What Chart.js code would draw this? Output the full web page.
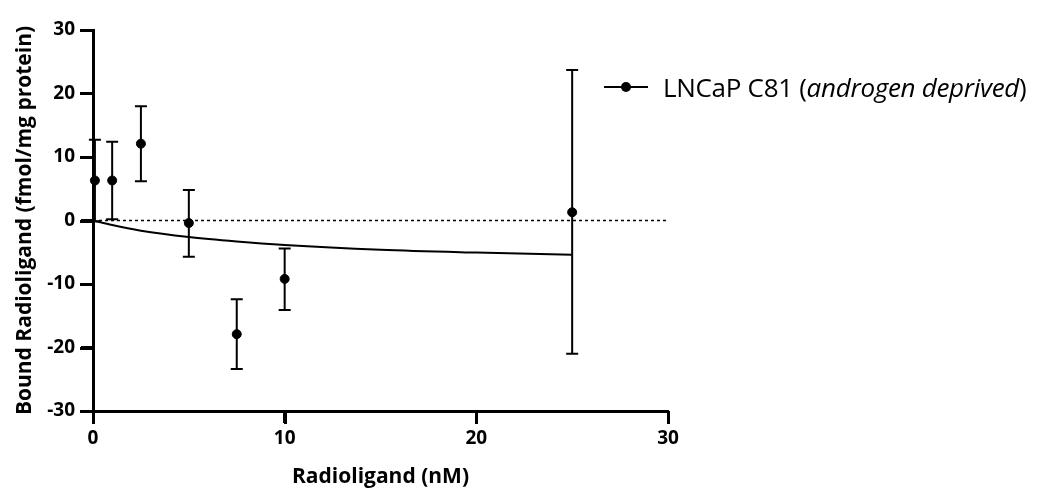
<!DOCTYPE html>
<html>
<head>
<meta charset="utf-8">
<script src="https://cdn.jsdelivr.net/npm/chart.js@4"></script>
<style>
  body { margin: 0; background: #fff; }
  .wrap { position: relative; width: 1043px; height: 493px; }
  .legend { position: absolute; left: 604px; top: 69px; font: 26px "Open Sans", sans-serif; letter-spacing: -0.3px; color: #000; display: flex; align-items: center; white-space: nowrap; }
  .legend .sym { position: relative; width: 44px; height: 34px; margin-right: 15px; }
  .legend .sym::before { content: ""; position: absolute; left: 0; right: 0; top: 16px; border-top: 2px solid #000; }
  .legend .sym::after { content: ""; position: absolute; left: 17px; top: 12px; width: 10px; height: 10px; border-radius: 50%; background: #000; }
</style>
</head>
<body>
<div class="wrap">
  <canvas id="binding" width="1043" height="493"></canvas>
  <div class="legend"><span class="sym"></span><span>LNCaP C81 (<i>androgen deprived</i>)</span></div>
</div>
<script>
// radioligand concentration (nM) and bound radioligand mean / error bar ends
let ligand = [0.1, 1, 2.5, 5, 7.5, 10, 25]
let bound = [6.3, 6.3, 12.1, -0.4, -17.9, -9.2, 1.3]
let errTop = [12.7, 12.4, 18.0, 4.8, -12.4, -4.4, 23.7]
let errBottom = [-0.1, 0.2, 6.2, -5.7, -23.4, -14.1, -21.0]

// fitted one-site curve, read at a few concentrations
let fitX = [0, 1, 2.5, 5, 7.5, 10, 15, 20, 25]
let fitY = [0, -0.72, -1.6, -2.6, -3.3, -3.85, -4.6, -5.05, -5.4]

let yTicks = [-30, -20, -10, 0, 10, 20, 30]
let xTicks = [0, 10, 20, 30]

// error bars with caps
let errorBars = {
    id: "errorBars",
    afterDatasetsDraw(chart) {
        let ctx = chart.ctx
        let xs = chart.scales.x
        let ys = chart.scales.y
        ctx.save()
        ctx.strokeStyle = "#000"
        ctx.lineWidth = 2
        ligand.forEach((x, i) => {
            let px = xs.getPixelForValue(x)
            let top = ys.getPixelForValue(errTop[i])
            let bot = ys.getPixelForValue(errBottom[i])
            ctx.beginPath()
            ctx.moveTo(px, top)
            ctx.lineTo(px, bot)
            ctx.moveTo(px - 6, top)
            ctx.lineTo(px + 6, top)
            ctx.moveTo(px - 6, bot)
            ctx.lineTo(px + 6, bot)
            ctx.stroke()
        })
        ctx.restore()
    }
}

// outward tick marks on both axes
let axisTicks = {
    id: "axisTicks",
    afterDraw(chart) {
        let ctx = chart.ctx
        let xs = chart.scales.x
        let ys = chart.scales.y
        let area = chart.chartArea
        ctx.save()
        ctx.fillStyle = "#000"
        yTicks.forEach(v => {
            let py = Math.round(ys.getPixelForValue(v))
            ctx.fillRect(Math.round(area.left) - 13, py - 1, 13, 3)
        })
        xTicks.forEach(v => {
            let px = Math.round(xs.getPixelForValue(v))
            ctx.fillRect(px - 1, Math.round(area.bottom), 3, 13)
        })
        ctx.restore()
    }
}

let tickFont = { family: "Open Sans", size: 19, weight: "bold" }
let titleFont = { family: "Open Sans", size: 21, weight: "bold" }

new Chart("binding", {
    type: "scatter",
    data: {
        datasets: [{
            label: "zero",
            data: [{ x: 0, y: 0 }, { x: 30, y: 0 }],
            showLine: true,
            borderColor: "#000",
            borderWidth: 1.5,
            borderDash: [3, 3],
            pointRadius: 0
        }, {
            label: "fit",
            data: fitX.map((x, i) => ({ x: x, y: fitY[i] })),
            showLine: true,
            borderColor: "#000",
            borderWidth: 2,
            cubicInterpolationMode: "monotone",
            pointRadius: 0
        }, {
            label: "LNCaP C81 (androgen deprived)",
            data: ligand.map((x, i) => ({ x: x, y: bound[i] })),
            backgroundColor: "#000",
            borderColor: "#000",
            pointRadius: 4.5
        }]
    },
    options: {
        responsive: false,
        animation: false,
        clip: false,
        layout: { padding: { top: 30, right: 375, left: 12, bottom: 0 } },
        plugins: { legend: { display: false }, tooltip: { enabled: false } },
        scales: {
            x: {
                type: "linear",
                min: 0, max: 30,
                afterFit: s => { s.height = 82 },
                afterBuildTicks: s => { s.ticks = xTicks.map(v => ({ value: v })) },
                grid: { drawOnChartArea: false, drawTicks: true, tickLength: 12, tickWidth: 3, tickColor: "#000", color: "#000" },
                border: { display: true, width: 3, color: "#000" },
                ticks: { color: "#000", font: tickFont, padding: 4 },
                title: { display: true, text: "Radioligand (nM)", color: "#000", font: titleFont, padding: { top: 4, bottom: 3 } }
            },
            y: {
                type: "linear",
                min: -30, max: 30,
                afterFit: s => { s.width = 81 },
                afterBuildTicks: s => { s.ticks = yTicks.map(v => ({ value: v })) },
                grid: { drawOnChartArea: false, drawTicks: true, tickLength: 12, tickWidth: 3, tickColor: "#000", color: "#000" },
                border: { display: true, width: 3, color: "#000" },
                ticks: { color: "#000", font: tickFont, padding: 6 },
                title: { display: true, text: "Bound Radioligand (fmol/mg protein)", color: "#000", font: titleFont, padding: { top: 0, bottom: 0 } }
            }
        }
    },
    plugins: [errorBars, axisTicks]
})
</script>
</body>
</html>
